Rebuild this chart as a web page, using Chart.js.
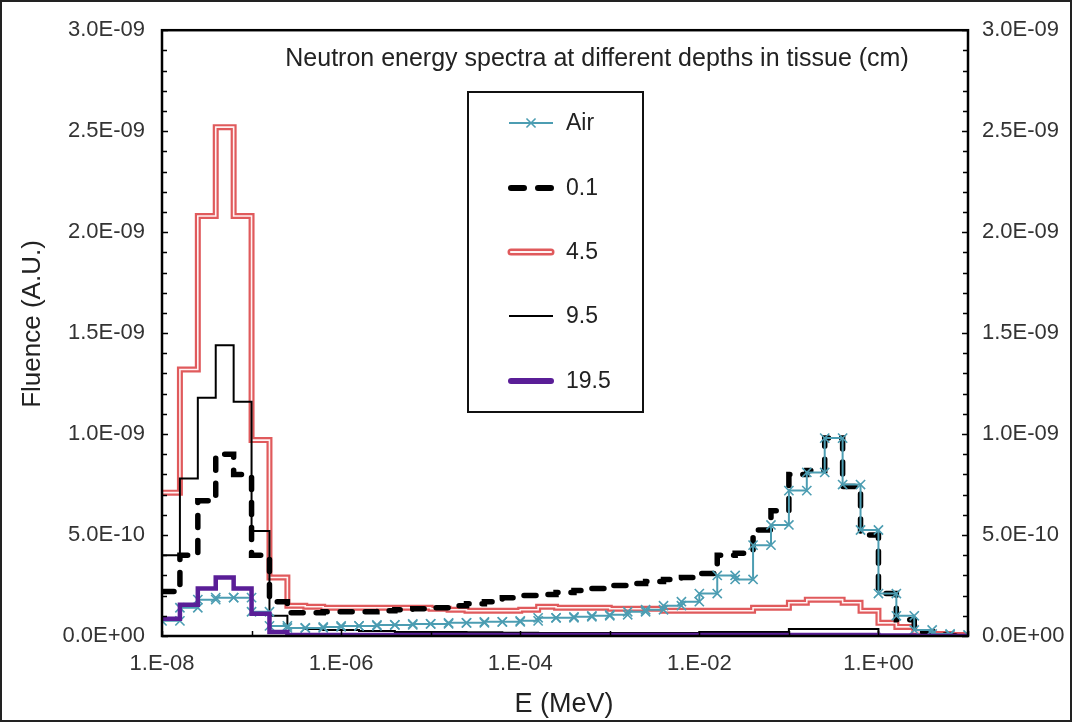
<!DOCTYPE html>
<html><head><meta charset="utf-8">
<script src="https://cdn.jsdelivr.net/npm/chart.js@4.4.1/dist/chart.umd.min.js"></script>
<style>html,body{margin:0;padding:0;background:#fff;}canvas{display:block;}</style>
</head><body>
<canvas id="c" width="1072" height="722"></canvas>
<script>
// ---- data (fluence in units of 1E-09, per energy bin) ----
const UNIT = 1e-9;
const binEdges = [
 1e-8, 1.585e-8, 2.512e-8, 3.981e-8, 6.310e-8,
 1e-7, 1.585e-7, 2.512e-7, 3.981e-7, 6.310e-7,
 1e-6, 1.585e-6, 2.512e-6, 3.981e-6, 6.310e-6,
 1e-5, 1.585e-5, 2.512e-5, 3.981e-5, 6.310e-5,
 1e-4, 1.585e-4, 2.512e-4, 3.981e-4, 6.310e-4,
 1e-3, 1.585e-3, 2.512e-3, 3.981e-3, 6.310e-3,
 1e-2, 1.585e-2, 2.512e-2, 3.981e-2, 6.310e-2,
 1e-1, 1.585e-1, 2.512e-1, 3.981e-1, 6.310e-1,
 1, 1.585, 2.512, 3.981, 6.310, 10];
const seriesNames = ['Air', '0.1', '4.5', '9.5', '19.5'];
const air = [0.075,0.14,0.18,0.19,0.19, 0.12,0.05,0.04,0.04,0.045,
 0.05,0.05,0.055,0.055,0.06, 0.06,0.065,0.065,0.07,0.07,
 0.075,0.09,0.09,0.095,0.10, 0.105,0.12,0.13,0.15,0.17,
 0.21,0.30,0.28,0.45,0.55, 0.72,0.81,0.98,0.75,0.525,
 0.21,0.10,0.03,0.01,0.005];
const depth01 = [0.22,0.40,0.67,0.90,0.80, 0.40,0.17,0.115,0.115,0.12,
 0.12,0.12,0.125,0.13,0.135, 0.14,0.15,0.16,0.17,0.19,
 0.20,0.205,0.215,0.225,0.235, 0.25,0.26,0.27,0.28,0.29,
 0.31,0.40,0.41,0.525,0.62, 0.80,0.82,0.98,0.74,0.50,
 0.21,0.08,0.02,0.005,0.0];
const depth45 = [0.71,1.32,2.08,2.52,2.08, 0.97,0.29,0.15,0.145,0.14,
 0.14,0.14,0.14,0.14,0.14, 0.135,0.13,0.125,0.125,0.125,
 0.13,0.145,0.14,0.14,0.14, 0.135,0.135,0.135,0.125,0.125,
 0.125,0.125,0.125,0.14,0.14, 0.165,0.18,0.18,0.165,0.125,
 0.065,0.045,0.02,0.01,0.005];
const depth95 = [0.40,0.78,1.18,1.44,1.16, 0.52,0.10,0.04,0.035,0.03,
 0.03,0.025,0.025,0.02,0.02, 0.02,0.02,0.018,0.018,0.016,
 0.016,0.015,0.015,0.015,0.015, 0.015,0.015,0.015,0.015,0.015,
 0.02,0.02,0.02,0.02,0.02, 0.035,0.035,0.035,0.035,0.035,
 0.005,0.0,0.0,0.0,0.0];
const depth195 = [0.085,0.155,0.235,0.29,0.235, 0.11,0.02,0.005,0.005,0.005,
 0.005,0.005,0.005,0.005,0.005, 0.005,0.005,0.005,0.005,0.005,
 0.005,0.005,0.005,0.005,0.005, 0.005,0.005,0.005,0.005,0.005,
 0.005,0.005,0.005,0.005,0.005, 0.005,0.005,0.005,0.005,0.005,
 0.003,0.002,0.0,0.0,0.0];
const xTickValues = [1e-8, 1e-6, 1e-4, 1e-2, 1];
const xTickLabels = ['1.E-08', '1.E-06', '1.E-04', '1.E-02', '1.E+00'];
const yTickValues = [0, 5e-10, 1e-9, 1.5e-9, 2e-9, 2.5e-9, 3e-9];
const yTickLabels = ['0.0E+00', '5.0E-10', '1.0E-09', '1.5E-09', '2.0E-09', '2.5E-09', '3.0E-09'];
const chartTitle = 'Neutron energy spectra at different depths in tissue (cm)';
const xTitle = 'E (MeV)';
const yTitle = 'Fluence (A.U.)';

// ---- styling ----
const FONT = "'Liberation Sans', Arial, Helvetica, sans-serif";
const W = 1072, H = 722;
const PLOT = {left: 162, right: 968, top: 13, bottom: 636};
const C_AIR = '#4c9db2', C_RED = '#e05a5c', C_PURPLE = '#5a1e97';

function stepPoints(vals) {
  const pts = [];
  vals.forEach((v, i) => {
    pts.push({x: binEdges[i], y: v * UNIT});
    pts.push({x: binEdges[i + 1], y: v * UNIT});
  });
  return pts;
}

const base = {fill: false, tension: 0, pointRadius: 0, yAxisID: 'y', xAxisID: 'x'};
const datasets = [
  Object.assign({}, base, {label: seriesNames[2], data: stepPoints(depth45), borderColor: C_RED, borderWidth: 6, order: 6, borderJoinStyle: 'miter'}),
  Object.assign({}, base, {label: '_inner45', data: stepPoints(depth45), borderColor: '#fff3f3', borderWidth: 1.6, order: 5, borderJoinStyle: 'miter'}),
  Object.assign({}, base, {label: seriesNames[3], data: stepPoints(depth95), borderColor: '#000', borderWidth: 2, order: 4}),
  Object.assign({}, base, {label: seriesNames[1], data: stepPoints(depth01), borderColor: '#000', borderWidth: 5.5, borderDash: [12, 13], borderCapStyle: 'round', order: 3}),
  Object.assign({}, base, {label: seriesNames[0], data: stepPoints(air), borderColor: C_AIR, borderWidth: 2,
     pointRadius: 6.5, pointStyle: 'crossRot', pointBorderColor: C_AIR, pointBackgroundColor: C_AIR, pointBorderWidth: 1.6, order: 2}),
  Object.assign({}, base, {label: seriesNames[4], data: stepPoints(depth195), borderColor: C_PURPLE, borderWidth: 4.5, order: 1})
];

const deco = {
  id: 'deco',
  afterDraw(chart) {
    const ctx = chart.ctx;
    const a = chart.chartArea;
    const ys = chart.scales.y, xs = chart.scales.x;
    ctx.save();
    // inward tick marks
    ctx.strokeStyle = '#000'; ctx.lineWidth = 1.5;
    for (let k = 0; k <= 30; k++) {
      const py = Math.round(ys.getPixelForValue(k * 1e-10)) + 0.5;
      const len = (k % 5 === 0) ? 6 : 5;
      ctx.beginPath();
      ctx.moveTo(a.left, py); ctx.lineTo(a.left + len, py);
      ctx.moveTo(a.right, py); ctx.lineTo(a.right - len, py);
      ctx.stroke();
    }
    for (let d = -8; d <= 1; d++) {
      const px = Math.round(xs.getPixelForValue(Math.pow(10, d))) + 0.5;
      ctx.beginPath(); ctx.moveTo(px, a.bottom); ctx.lineTo(px, a.bottom - 5); ctx.stroke();
    }
    // plot frame
    ctx.lineWidth = 2.5; ctx.strokeStyle = '#000';
    ctx.strokeRect(a.left, a.top, a.right - a.left, a.bottom - a.top);
    // chart title
    ctx.fillStyle = '#222'; ctx.textAlign = 'center'; ctx.textBaseline = 'alphabetic';
    ctx.font = '25px ' + FONT;
    ctx.fillText(chartTitle, 597, 66);
    // axis titles
    ctx.font = '27px ' + FONT;
    ctx.fillText(xTitle, 564, 712);
    ctx.save();
    ctx.translate(40, 324); ctx.rotate(-Math.PI / 2);
    ctx.font = '26px ' + FONT;
    ctx.fillText(yTitle, 0, 0);
    ctx.restore();
    // legend
    const L = {x0: 468, y0: 92, x1: 643, y1: 412};
    ctx.fillStyle = '#fff';
    ctx.fillRect(L.x0, L.y0, L.x1 - L.x0, L.y1 - L.y0);
    ctx.lineWidth = 2; ctx.strokeStyle = '#111';
    ctx.strokeRect(L.x0, L.y0, L.x1 - L.x0, L.y1 - L.y0);
    const rows = [123, 188, 252, 316, 381];
    const sx0 = 509, sx1 = 553, tx = 566;
    ctx.font = '23px ' + FONT; ctx.textAlign = 'left'; ctx.textBaseline = 'middle';
    rows.forEach((ry, i) => {
      ctx.save();
      ctx.setLineDash([]);
      if (i === 0) {
        ctx.strokeStyle = C_AIR; ctx.lineWidth = 2;
        ctx.beginPath(); ctx.moveTo(sx0, ry); ctx.lineTo(sx1, ry); ctx.stroke();
        const cx = (sx0 + sx1) / 2, r = 6.5;
        ctx.lineWidth = 1.6; ctx.beginPath();
        ctx.moveTo(cx - r * 0.7, ry - r * 0.7); ctx.lineTo(cx + r * 0.7, ry + r * 0.7);
        ctx.moveTo(cx + r * 0.7, ry - r * 0.7); ctx.lineTo(cx - r * 0.7, ry + r * 0.7);
        ctx.stroke();
      } else if (i === 1) {
        ctx.strokeStyle = '#000'; ctx.lineWidth = 6; ctx.lineCap = 'round';
        ctx.beginPath(); ctx.moveTo(sx0 + 2, ry); ctx.lineTo(sx0 + 15, ry);
        ctx.moveTo(sx0 + 29, ry); ctx.lineTo(sx1 - 2, ry); ctx.stroke();
      } else if (i === 2) {
        ctx.strokeStyle = C_RED; ctx.lineWidth = 7; ctx.lineCap = 'round';
        ctx.beginPath(); ctx.moveTo(sx0 + 2, ry); ctx.lineTo(sx1 - 2, ry); ctx.stroke();
        ctx.strokeStyle = '#fff3f3'; ctx.lineWidth = 2.2;
        ctx.beginPath(); ctx.moveTo(sx0 + 2, ry); ctx.lineTo(sx1 - 2, ry); ctx.stroke();
      } else if (i === 3) {
        ctx.strokeStyle = '#000'; ctx.lineWidth = 2;
        ctx.beginPath(); ctx.moveTo(sx0, ry); ctx.lineTo(sx1, ry); ctx.stroke();
      } else {
        ctx.strokeStyle = C_PURPLE; ctx.lineWidth = 6; ctx.lineCap = 'round';
        ctx.beginPath(); ctx.moveTo(sx0 + 2, ry); ctx.lineTo(sx1 - 2, ry); ctx.stroke();
      }
      ctx.restore();
      ctx.fillStyle = '#222';
      ctx.fillText(seriesNames[i], tx, ry + 1);
    });
    // outer picture border
    ctx.lineWidth = 2; ctx.strokeStyle = '#222';
    ctx.strokeRect(1, 1, W - 2, H - 2);
    ctx.restore();
  }
};

const whiteBg = {
  id: 'whiteBg',
  beforeDraw(chart) { const c = chart.ctx; c.save(); c.fillStyle = '#fff'; c.fillRect(0, 0, W, H); c.restore(); }
};

const tickFont = {family: FONT, size: 22};
new Chart(document.getElementById('c'), {
  type: 'line',
  data: {datasets},
  plugins: [whiteBg, deco],
  options: {
    responsive: false, animation: false, devicePixelRatio: 1, events: [],
    layout: {padding: {top: PLOT.top, left: 0, right: 0, bottom: 0}},
    plugins: {legend: {display: false}, tooltip: {enabled: false}, title: {display: false}},
    scales: {
      x: {
        type: 'logarithmic', position: 'bottom', min: 1e-8, max: 10,
        grid: {display: false, drawTicks: false}, border: {display: false},
        ticks: {font: tickFont, color: '#333', padding: 15, autoSkip: false, maxRotation: 0,
                callback: (v, i) => xTickLabels[i]},
        afterBuildTicks: s => { s.ticks = xTickValues.map(v => ({value: v})); },
        afterFit: s => { s.height = H - PLOT.bottom; }
      },
      y: {
        type: 'linear', position: 'left', min: 0, max: 3e-9,
        grid: {display: false, drawTicks: false}, border: {display: false},
        ticks: {font: tickFont, color: '#333', padding: 17, callback: (v, i) => yTickLabels[i]},
        afterBuildTicks: s => { s.ticks = yTickValues.map(v => ({value: v})); },
        afterFit: s => { s.width = PLOT.left; }
      },
      y2: {
        type: 'linear', position: 'right', min: 0, max: 3e-9,
        grid: {display: false, drawTicks: false}, border: {display: false},
        ticks: {font: tickFont, color: '#333', padding: 14, callback: (v, i) => yTickLabels[i]},
        afterBuildTicks: s => { s.ticks = yTickValues.map(v => ({value: v})); },
        afterFit: s => { s.width = W - PLOT.right; }
      }
    }
  }
});
</script>
</body></html>
